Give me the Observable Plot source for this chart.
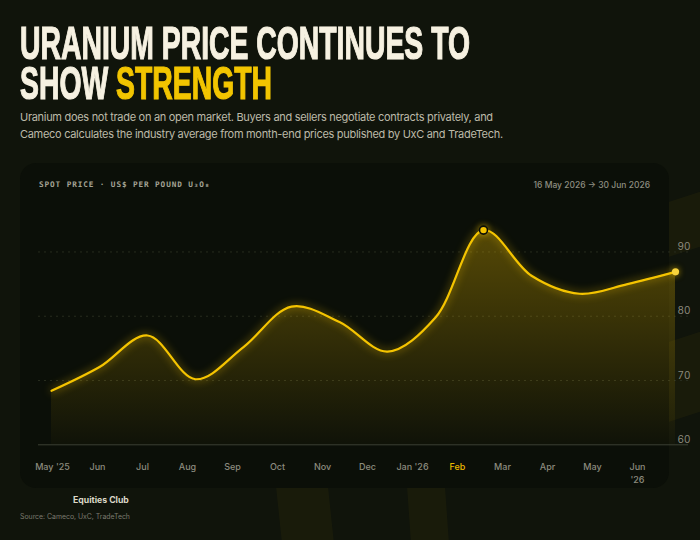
<!DOCTYPE html>
<html>
<head>
<meta charset="utf-8">
<script src="https://cdn.jsdelivr.net/npm/d3@7"></script>
<script src="https://cdn.jsdelivr.net/npm/@observablehq/plot@0.6"></script>
<style>
  /* Narrow headline face with tight line metrics */
  @font-face {
    font-family: "Headline Narrow";
    src: local("Liberation Sans Narrow Bold"), local("LiberationSansNarrow-Bold");
    font-weight: 700;
    ascent-override: 76%;
    descent-override: 8%;
    line-gap-override: 0%;
  }
  html, body { margin: 0; padding: 0; }
  body {
    width: 700px; height: 540px; position: relative; overflow: hidden;
    background: #10140b; font-family: Inter, "Noto Sans", sans-serif;
  }
  .abs { position: absolute; }
  .deco { position: absolute; background: rgba(235, 195, 0, 0.045); }
  .titleLine {
    left: 20px; white-space: nowrap; transform-origin: 0 0; height: 29px;
    font-family: "Headline Narrow", "Liberation Sans Narrow", sans-serif;
    font-weight: 700; font-size: 34px; line-height: 29px; color: #f6f1e1;
    -webkit-text-stroke: 0.9px #f6f1e1;
  }
  .titleLine .hl { color: #f2c500; -webkit-text-stroke: 0.9px #f2c500; }
  #title1 { top: 23px; }
  #title2 { top: 63px; }
  #subtitle {
    left: 20px; top: 109px; font-size: 11px; letter-spacing: -0.3px; line-height: 17px; color: #bdbaa9;
    white-space: nowrap;
  }
  #card {
    left: 20px; top: 163px; width: 649px; height: 325px; border-radius: 16px;
    background: #0b0f08;
  }
  #cardLabel {
    left: 39px; top: 180px; font-family: "DejaVu Sans Mono", monospace; font-weight: 700;
    font-size: 7.7px; letter-spacing: 0.9px; color: #a5a496; white-space: nowrap;
  }
  #cardRange {
    right: 50px; top: 180px; font-size: 8.5px; font-weight: 500; color: #8e8d80; white-space: nowrap;
  }
  #chart { left: 20px; top: 200px; }
  #months { left: 20px; top: 460px; }
  #brand { left: 73px; top: 495px; font-size: 8.7px; font-weight: 700; color: #dcd9c8; }
  #source { left: 20px; top: 512px; font-size: 6.9px; color: #7b7a6e; white-space: nowrap; }
</style>
</head>
<body>
<div class="deco" style="left:279px;top:470px;width:52px;height:90px;transform:skewX(6deg);"></div>
<div class="deco" style="left:409px;top:470px;width:38px;height:90px;transform:skewX(4deg);"></div>
<div class="deco" style="left:660px;top:195px;width:60px;height:55px;transform:skewY(-18deg);"></div>
<div class="deco" style="left:660px;top:335px;width:60px;height:80px;transform:skewY(-18deg);"></div>

<div id="title1" class="abs titleLine"><span id="t1">URANIUM PRICE CONTINUES TO</span></div>
<div id="title2" class="abs titleLine">SHOW <span class="hl">STRENGTH</span></div>
<div id="subtitle" class="abs">Uranium does not trade on an open market. Buyers and sellers negotiate contracts privately, and<br>Cameco calculates the industry average from month-end prices published by UxC and TradeTech.</div>
<div id="card" class="abs"></div>
<div id="cardLabel" class="abs">SPOT PRICE · US$ PER POUND U₃O₈</div>
<div id="cardRange" class="abs">16 May 2026 → 30 Jun 2026</div>
<div id="chart" class="abs"></div>
<div id="months" class="abs"></div>
<div id="brand" class="abs">Equities Club</div>
<div id="source" class="abs">Source: Cameco, UxC, TradeTech</div>

<script>
// Month-end spot price, US$ per pound U3O8
const months = ["May '25", "Jun", "Jul", "Aug", "Sep", "Oct", "Nov", "Dec", "Jan '26", "Feb", "Mar", "Apr", "May", "Jun '26"];
const prices = [68.4, 72.1, 77.0, 70.2, 75.2, 81.5, 79.1, 74.5, 79.8, 93.4, 86.3, 83.5, 85.0, 86.9];
const monthLabels = ["May '25", "Jun", "Jul", "Aug", "Sep", "Oct", "Nov", "Dec", "Jan '26", "Feb", "Mar", "Apr", "May", "Jun\n'26"];
const highlightMonth = "Feb";
const yTicks = [60, 70, 80, 90];
const gridTicks = [70, 80, 90];

const yellow = "#f5c400";
const data = months.map((month, i) => ({month, price: prices[i]}));
const peak = data.reduce((a, b) => (b.price > a.price ? b : a));
const last = data[data.length - 1];

// Condense the headline to its column width and stretch it tall
const w1 = document.getElementById("t1").getBoundingClientRect().width;
const squeeze = `scale(${450 / w1}, 1.38)`;
document.getElementById("title1").style.transform = squeeze;
document.getElementById("title2").style.transform = squeeze;

const chart = Plot.plot({
  width: 680,
  height: 250,
  marginLeft: 29,
  marginRight: 23,
  marginTop: 19.3,
  marginBottom: 5.7,
  style: {background: "transparent", overflow: "visible", fontFamily: "Inter, sans-serif"},
  x: {type: "point", domain: months, padding: 0, axis: null},
  y: {domain: [60, 95], axis: null},
  marks: [
    Plot.ruleY(gridTicks, {stroke: "#272c1e", strokeDasharray: "2,4", insetLeft: -11, insetRight: -11}),
    Plot.areaY(data, {x: "month", y1: 60, y2: "price", curve: "catmull-rom", fill: "url(#spotFill)"}),
    Plot.ruleY([60], {stroke: "#3c4034", insetLeft: -11, insetRight: -11}),
    Plot.lineY(data, {x: "month", y: "price", curve: "catmull-rom", stroke: yellow, strokeWidth: 2.2}),
    Plot.dot([peak], {x: "month", y: "price", r: 4, fill: yellow, stroke: "#0b0f08", strokeWidth: 1.6}),
    Plot.dot([last], {x: "month", y: "price", r: 3.6, fill: "#f7d33c"}),
    Plot.axisY(yTicks, {anchor: "right", tickSize: 0, tickPadding: 0, textAnchor: "start", lineAnchor: "bottom", dy: -2, fill: "#8b8a7d", fontSize: 10, label: null})
  ]
});

// Soft fill under the price line
const svg = d3.select(chart);
const grad = svg.insert("defs", ":first-child").append("linearGradient")
  .attr("id", "spotFill").attr("x1", 0).attr("y1", 0).attr("x2", 0).attr("y2", 1);
grad.append("stop").attr("offset", "0%").attr("stop-color", yellow).attr("stop-opacity", 0.32);
grad.append("stop").attr("offset", "100%").attr("stop-color", yellow).attr("stop-opacity", 0.02);

// Glow around the line and the markers
svg.selectAll('g[aria-label="line"] path').style("filter", "drop-shadow(0 0 4px rgba(245,196,0,0.7))");
svg.selectAll('g[aria-label="dot"] circle').style("filter", "drop-shadow(0 0 3px rgba(245,196,0,0.6))");

document.getElementById("chart").appendChild(chart);

// Month label row
const monthRow = Plot.plot({
  width: 680,
  height: 34,
  marginTop: 0,
  marginBottom: 0,
  marginLeft: 28,
  marginRight: 60,
  style: {background: "transparent", overflow: "visible", fontFamily: "Inter, sans-serif"},
  x: {type: "point", domain: months, padding: 0, axis: null},
  color: {type: "identity"},
  marks: [
    Plot.text(months, {
      x: d => d,
      text: (d, i) => monthLabels[i],
      frameAnchor: "top",
      lineAnchor: "top",
      lineHeight: 1.45,
      fontSize: 9,
      fontWeight: 500,
      fill: d => (d === highlightMonth ? "#eab900" : "#8c8b7e")
    })
  ]
});
document.getElementById("months").appendChild(monthRow);
</script>
</body>
</html>
